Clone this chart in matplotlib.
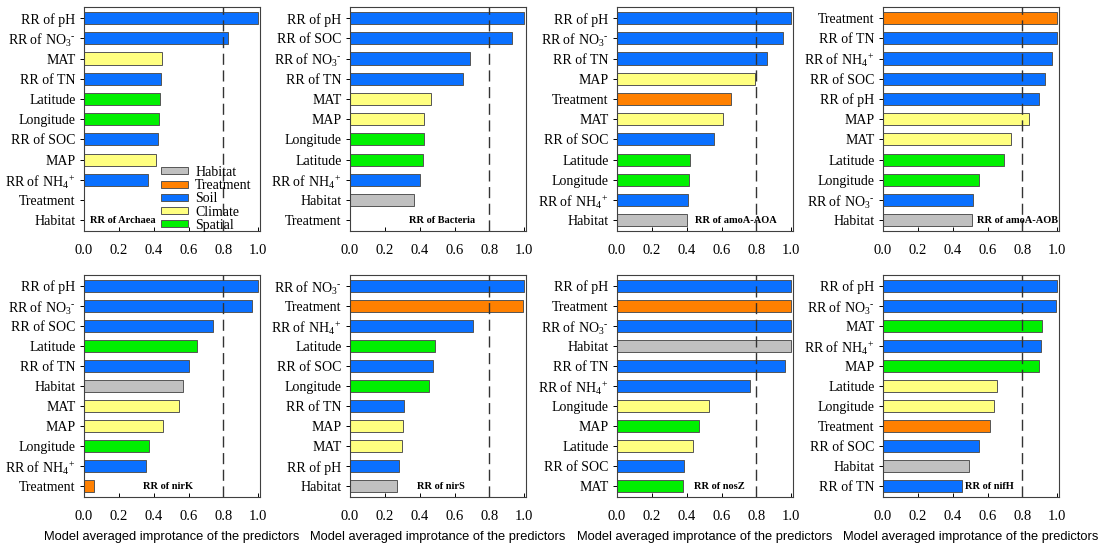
import numpy as np
import matplotlib
matplotlib.use('Agg')
import matplotlib.pyplot as plt
from matplotlib.patches import Patch

plt.rcParams['font.family'] = ['Liberation Serif', 'DejaVu Serif']
plt.rcParams['mathtext.fontset'] = 'custom'
plt.rcParams['mathtext.rm'] = 'Liberation Serif'
plt.rcParams['mathtext.it'] = 'Liberation Serif:italic'
plt.rcParams['mathtext.bf'] = 'Liberation Serif:bold'

NO3 = r'RR of NO$_3$$^{\text{-}}$'
NH4 = r'RR of NH$_4$$^+$'

group_colors = {'Habitat': '#c0c0c0', 'Treatment': '#ff8000', 'Soil': '#0a70ff',
                'Climate': '#ffff80', 'Spatial': '#00f000'}

# predictors, importances and colour groups of every panel (top to bottom)
archaea_labels = ['RR of pH', NO3, 'MAT', 'RR of TN', 'Latitude', 'Longitude', 'RR of SOC', 'MAP', NH4, 'Treatment', 'Habitat']
archaea_values = [1.0, 0.824, 0.449, 0.444, 0.438, 0.432, 0.426, 0.411, 0.367, 0.0, 0.0]
archaea_groups = ['Soil', 'Soil', 'Climate', 'Soil', 'Spatial', 'Spatial', 'Soil', 'Climate', 'Soil', 'Treatment', 'Habitat']

bacteria_labels = ['RR of pH', 'RR of SOC', NO3, 'RR of TN', 'MAT', 'MAP', 'Longitude', 'Latitude', NH4, 'Habitat', 'Treatment']
bacteria_values = [1.0, 0.929, 0.688, 0.646, 0.463, 0.424, 0.423, 0.421, 0.402, 0.369, 0.0]
bacteria_groups = ['Soil', 'Soil', 'Soil', 'Soil', 'Climate', 'Climate', 'Spatial', 'Spatial', 'Soil', 'Habitat', 'Treatment']

aoa_labels = ['RR of pH', NO3, 'RR of TN', 'MAP', 'Treatment', 'MAT', 'RR of SOC', 'Latitude', 'Longitude', NH4, 'Habitat']
aoa_values = [1.0, 0.952, 0.86, 0.791, 0.655, 0.609, 0.554, 0.420, 0.414, 0.406, 0.400]
aoa_groups = ['Soil', 'Soil', 'Soil', 'Climate', 'Treatment', 'Climate', 'Soil', 'Spatial', 'Spatial', 'Soil', 'Habitat']

aob_labels = ['Treatment', 'RR of TN', NH4, 'RR of SOC', 'RR of pH', 'MAP', 'MAT', 'Latitude', 'Longitude', NO3, 'Habitat']
aob_values = [1.0, 0.996, 0.971, 0.931, 0.894, 0.838, 0.737, 0.694, 0.552, 0.517, 0.510]
aob_groups = ['Treatment', 'Soil', 'Soil', 'Soil', 'Soil', 'Climate', 'Climate', 'Spatial', 'Spatial', 'Soil', 'Habitat']

nirk_labels = ['RR of pH', NO3, 'RR of SOC', 'Latitude', 'RR of TN', 'Habitat', 'MAT', 'MAP', 'Longitude', NH4, 'Treatment']
nirk_values = [1.0, 0.964, 0.743, 0.649, 0.603, 0.569, 0.548, 0.456, 0.375, 0.356, 0.057]
nirk_groups = ['Soil', 'Soil', 'Soil', 'Spatial', 'Soil', 'Habitat', 'Climate', 'Climate', 'Spatial', 'Soil', 'Treatment']

nirs_labels = [NO3, 'Treatment', NH4, 'Latitude', 'RR of SOC', 'Longitude', 'RR of TN', 'MAP', 'MAT', 'RR of pH', 'Habitat']
nirs_values = [1.0, 0.994, 0.706, 0.489, 0.478, 0.455, 0.312, 0.302, 0.296, 0.283, 0.268]
nirs_groups = ['Soil', 'Treatment', 'Soil', 'Spatial', 'Soil', 'Spatial', 'Soil', 'Climate', 'Climate', 'Soil', 'Habitat']

nosz_labels = ['RR of pH', 'Treatment', NO3, 'Habitat', 'RR of TN', NH4, 'Longitude', 'MAP', 'Latitude', 'RR of SOC', 'MAT']
nosz_values = [1.0, 1.0, 1.0, 0.996, 0.962, 0.764, 0.529, 0.473, 0.439, 0.385, 0.379]
nosz_groups = ['Soil', 'Treatment', 'Soil', 'Habitat', 'Soil', 'Soil', 'Climate', 'Spatial', 'Climate', 'Soil', 'Spatial']

nifh_labels = ['RR of pH', NO3, 'MAT', NH4, 'MAP', 'Latitude', 'Longitude', 'Treatment', 'RR of SOC', 'Habitat', 'RR of TN']
nifh_values = [1.0, 0.994, 0.915, 0.904, 0.894, 0.652, 0.637, 0.613, 0.552, 0.492, 0.452]
nifh_groups = ['Soil', 'Soil', 'Spatial', 'Soil', 'Spatial', 'Climate', 'Climate', 'Treatment', 'Soil', 'Habitat', 'Soil']

titles = ['RR of Archaea', 'RR of Bacteria', 'RR of amoA-AOA', 'RR of amoA-AOB',
          'RR of nirK', 'RR of nirS', 'RR of nosZ', 'RR of nifH']
title_x = [0.225, 0.526, 0.68, 0.77, 0.48, 0.52, 0.59, 0.61]
panels = [(archaea_labels, archaea_values, archaea_groups),
          (bacteria_labels, bacteria_values, bacteria_groups),
          (aoa_labels, aoa_values, aoa_groups),
          (aob_labels, aob_values, aob_groups),
          (nirk_labels, nirk_values, nirk_groups),
          (nirs_labels, nirs_values, nirs_groups),
          (nosz_labels, nosz_values, nosz_groups),
          (nifh_labels, nifh_values, nifh_groups)]

fig = plt.figure(figsize=(11.05, 5.49), dpi=100)
W, H = 1105, 549
lefts = [84, 350, 617, 883]
rows = [(7, 231), (275, 497)]
aw = 176

for k, (labels, values, groups) in enumerate(panels):
    row, col = divmod(k, 4)
    top, bottom = rows[row]
    ax = fig.add_axes([lefts[col] / W, 1 - bottom / H, aw / W, (bottom - top) / H])
    y = np.arange(len(labels))
    ax.barh(y, values, height=0.6, color=[group_colors[g] for g in groups],
            edgecolor='#555555', linewidth=0.7, zorder=2)
    ax.axvline(0.8, color='#333333', lw=1.0, ls=(0, (8, 4)), zorder=3)
    ax.set_xlim(0, 1.01)
    ax.set_ylim(10.53, -0.55)
    ax.set_yticks(y)
    ax.set_yticklabels(labels, fontsize=10)
    ax.set_xticks([0, 0.2, 0.4, 0.6, 0.8, 1.0])
    ax.set_xticklabels(['0.0', '0.2', '0.4', '0.6', '0.8', '1.0'], fontsize=10.5)
    ax.tick_params(axis='y', direction='out', length=3, width=0.7, pad=3)
    ax.tick_params(axis='x', direction='in', length=3, width=0.7, pad=9)
    for s in ax.spines.values():
        s.set_linewidth(0.8)
        s.set_color('#404040')
    ax.text(title_x[k], 10, titles[k], ha='center', va='center',
            fontsize=7.5, fontweight='bold', zorder=4)
    if row == 1:
        ax.set_xlabel('Model averaged improtance of the predictors',
                      family='Liberation Sans', fontsize=9.3, labelpad=6)
    if k == 0:
        names = ['Habitat', 'Treatment', 'Soil', 'Climate', 'Spatial']
        handles = [Patch(facecolor=group_colors[g], edgecolor='#555555', linewidth=0.7)
                   for g in names]
        ax.legend(handles, names,
                  loc='lower left', bbox_to_anchor=(0.43, -0.01), frameon=False,
                  fontsize=10, handlelength=1.95, handleheight=0.4,
                  labelspacing=0.02, handletextpad=0.5, borderpad=0.1,
                  borderaxespad=0)

fig.savefig('out.png', dpi=100)
